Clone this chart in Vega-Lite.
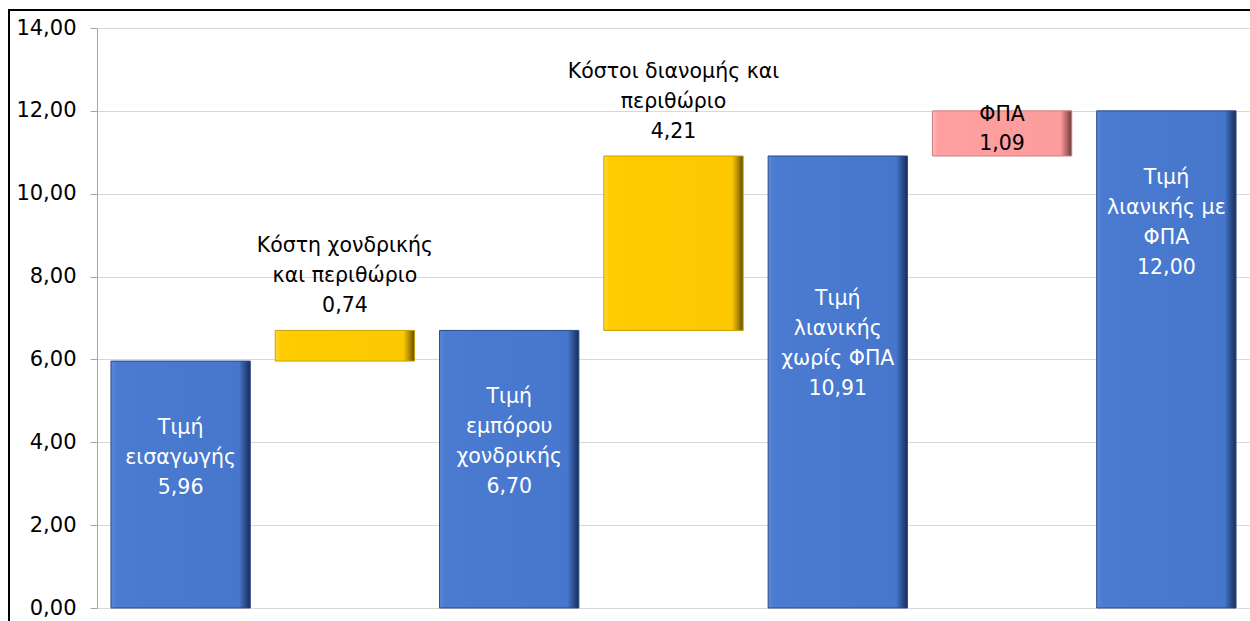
{
  "$schema": "https://vega.github.io/schema/vega-lite/v6.json",
  "autosize": "none",
  "width": 1253,
  "height": 623,
  "padding": {"left": 9, "top": 10, "right": -12, "bottom": -12},
  "background": "#ffffff",
  "config": {
    "locale": {"number": {"decimal": ",", "thousands": ".", "grouping": [3], "currency": ["", " €"]}},
    "view": {"stroke": "#000000", "strokeWidth": 2},
    "text": {"font": "DejaVu Sans"}
  },
  "data": {
    "values": [
      {"cat": "A", "name": "Τιμή\nεισαγωγής", "kind": "total", "start": 0, "end": 5.96, "value": 5.96},
      {"cat": "B", "name": "Κόστη χονδρικής\nκαι περιθώριο", "kind": "cost", "start": 5.96, "end": 6.70, "value": 0.74},
      {"cat": "C", "name": "Τιμή\nεμπόρου\nχονδρικής", "kind": "total", "start": 0, "end": 6.70, "value": 6.70},
      {"cat": "D", "name": "Κόστοι διανομής και\nπεριθώριο", "kind": "cost", "start": 6.70, "end": 10.91, "value": 4.21},
      {"cat": "E", "name": "Τιμή\nλιανικής\nχωρίς ΦΠΑ", "kind": "total", "start": 0, "end": 10.91, "value": 10.91},
      {"cat": "F", "name": "ΦΠΑ", "kind": "vat", "start": 10.91, "end": 12.00, "value": 1.09},
      {"cat": "G", "name": "Τιμή\nλιανικής με\nΦΠΑ", "kind": "total", "start": 0, "end": 12.00, "value": 12.00}
    ]
  },
  "transform": [
    {"calculate": "datum.name + '\\n' + replace(format(datum.value, '.2f'), '.', ',')", "as": "label"}
  ],
  "encoding": {
    "x": {
      "field": "cat", "type": "nominal", "sort": null, "axis": null,
      "scale": {"domain": ["A", "B", "C", "D", "E", "F", "G"], "range": [88, 1241], "paddingInner": 0.152, "paddingOuter": 0.085}
    },
    "y": {
      "field": "end", "type": "quantitative",
      "scale": {"domain": [0, 14], "range": [598, 18], "nice": false, "zero": true},
      "axis": {
        "values": [0, 2, 4, 6, 8, 10, 12, 14],
        "format": ".2f",
        "offset": -88,
        "title": null,
        "grid": true,
        "gridColor": "#d9d9d9",
        "gridWidth": 1,
        "domainColor": "#a6a6a6",
        "tickColor": "#a6a6a6",
        "tickSize": 7,
        "labelFont": "DejaVu Sans",
        "labelFontSize": 21,
        "labelColor": "#000000",
        "labelPadding": 14
      }
    }
  },
  "layer": [
    {
      "transform": [{"filter": "datum.kind == 'total'"}],
      "mark": {
        "type": "bar",
        "fill": {"gradient": "linear", "x1": 0, "y1": 0, "x2": 1, "y2": 0,
          "stops": [
            {"offset": 0, "color": "#5b8ad9"},
            {"offset": 0.04, "color": "#4a7bd0"},
            {"offset": 0.92, "color": "#4677cc"},
            {"offset": 0.96, "color": "#2d4f90"},
            {"offset": 1, "color": "#1a2d58"}
          ]},
        "stroke": "#2a4a85", "strokeWidth": 1
      },
      "encoding": {"y2": {"field": "start"}}
    },
    {
      "transform": [{"filter": "datum.kind == 'cost'"}],
      "mark": {
        "type": "bar",
        "fill": {"gradient": "linear", "x1": 0, "y1": 0, "x2": 1, "y2": 0,
          "stops": [
            {"offset": 0, "color": "#ffd83a"},
            {"offset": 0.04, "color": "#ffcc00"},
            {"offset": 0.92, "color": "#fcc800"},
            {"offset": 0.96, "color": "#b58f00"},
            {"offset": 1, "color": "#5e4a00"}
          ]},
        "stroke": "#c9a200", "strokeWidth": 1
      },
      "encoding": {"y2": {"field": "start"}}
    },
    {
      "transform": [{"filter": "datum.kind == 'vat'"}],
      "mark": {
        "type": "bar",
        "fill": {"gradient": "linear", "x1": 0, "y1": 0, "x2": 1, "y2": 0,
          "stops": [
            {"offset": 0, "color": "#ffb5b5"},
            {"offset": 0.04, "color": "#ffa0a0"},
            {"offset": 0.92, "color": "#fc9c9c"},
            {"offset": 0.96, "color": "#b86a6a"},
            {"offset": 1, "color": "#6e3a3a"}
          ]},
        "stroke": "#c98080", "strokeWidth": 1
      },
      "encoding": {"y2": {"field": "start"}}
    },
    {
      "transform": [{"filter": "datum.kind == 'total' && datum.cat != 'E'"}],
      "mark": {"type": "text", "lineBreak": "\n", "baseline": "top", "align": "center", "dy": 57, "fontSize": 20.5, "lineHeight": 30, "color": "#ffffff"},
      "encoding": {"text": {"field": "label"}}
    },
    {
      "transform": [{"filter": "datum.cat == 'E'"}],
      "mark": {"type": "text", "lineBreak": "\n", "baseline": "top", "align": "center", "dy": 133, "fontSize": 20.5, "lineHeight": 30, "color": "#ffffff"},
      "encoding": {"text": {"field": "label"}}
    },
    {
      "transform": [{"filter": "datum.kind == 'cost'"}],
      "mark": {"type": "text", "lineBreak": "\n", "baseline": "bottom", "align": "center", "dy": -74, "fontSize": 20.5, "lineHeight": 30, "color": "#000000"},
      "encoding": {"text": {"field": "label"}}
    },
    {
      "transform": [{"filter": "datum.kind == 'vat'"}],
      "mark": {"type": "text", "lineBreak": "\n", "baseline": "top", "align": "center", "dy": -6, "fontSize": 20.5, "lineHeight": 29, "color": "#000000"},
      "encoding": {"text": {"field": "label"}}
    }
  ]
}
